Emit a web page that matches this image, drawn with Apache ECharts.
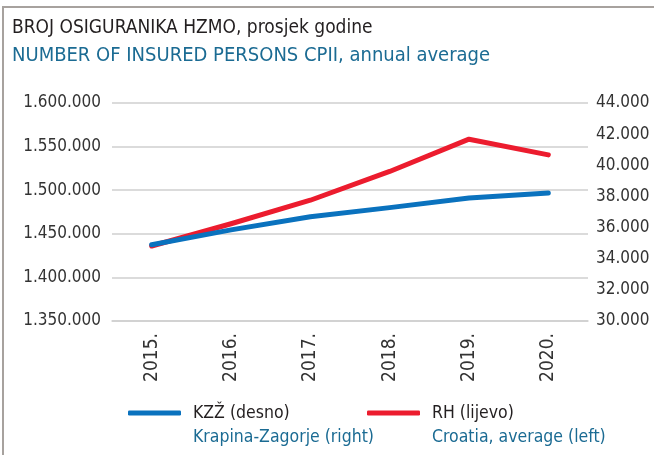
<!DOCTYPE html>
<html><head><meta charset="utf-8">
<script src="https://cdn.jsdelivr.net/npm/echarts@6/dist/echarts.min.js"></script>
<style>
html,body{margin:0;padding:0;background:#fff;}
#frame{position:absolute;left:2px;top:6px;width:660px;height:460px;border-left:2px solid #a7a29e;border-top:2px solid #a7a29e;}
#c{position:absolute;left:0;top:0;width:654px;height:455px;}
</style>
</head><body>
<div id="frame"></div>
<div id="c"></div>
<script>
const years = ['2015.', '2016.', '2017.', '2018.', '2019.', '2020.'];
const kzzValues = [34900, 35850, 36700, 37280, 37900, 38220];
const rhValues = [1436000, 1461500, 1488500, 1521500, 1558500, 1540500];
const leftAxis = { min: 1350000, max: 1600000, interval: 50000 };
const rightAxis = { min: 30000, max: 44000, interval: 2000 };
const seriesNames = ['KZŽ (desno)', 'RH (lijevo)'];
const seriesSubNames = ['Krapina-Zagorje (right)', 'Croatia, average (left)'];
const titleLines = ['BROJ OSIGURANIKA HZMO, prosjek godine', 'NUMBER OF INSURED PERSONS CPII, annual average'];

const FONT = "'Liberation Sans Narrow', 'DejaVu Sans Condensed', Lato, sans-serif";
const DARK = '#231f20';
const BLUE_TXT = '#1b6b93';
const BLUE = '#0a72be';
const RED = '#ec1c2e';

function fmt(v) { return String(v).replace(/\B(?=(\d{3})+(?!\d))/g, '.'); }

function legendFor(i, left) {
  return {
    data: [seriesNames[i]], left: left, top: 404, padding: 0, icon: 'roundRect',
    itemWidth: 53, itemHeight: 5,
    formatter: function () { return '{a|' + seriesNames[i] + '}\n{b|' + seriesSubNames[i] + '}'; },
    textStyle: {
      padding: [24, 0, 0, 7], fontFamily: FONT,
      rich: {
        a: { fontSize: 17.5, color: DARK, lineHeight: 24, fontFamily: FONT },
        b: { fontSize: 17.5, color: BLUE_TXT, lineHeight: 24, fontFamily: FONT }
      }
    }
  };
}

const chart = echarts.init(document.getElementById('c'), null, { renderer: 'canvas' });
chart.setOption({
  animation: false,
  title: [
    { text: titleLines[0], left: 12, top: 19, padding: 0, textStyle: { fontFamily: FONT, fontSize: 19, fontWeight: 'normal', color: DARK } },
    { text: titleLines[1], left: 12, top: 46, padding: 0, textStyle: { fontFamily: FONT, fontSize: 20, fontWeight: 'normal', color: BLUE_TXT } }
  ],
  legend: [legendFor(0, 128), legendFor(1, 367)],
  grid: { left: 112, right: 66, top: 103, bottom: 134 },
  xAxis: {
    type: 'category', data: years, boundaryGap: true,
    axisLine: { show: true, lineStyle: { color: '#cfcfcf', width: 1.5 } },
    axisTick: { show: false },
    axisLabel: { rotate: 90, margin: 12, fontFamily: FONT, fontSize: 19, color: '#333' }
  },
  yAxis: [
    {
      type: 'value', position: 'left', min: leftAxis.min, max: leftAxis.max, interval: leftAxis.interval,
      axisLine: { show: false }, axisTick: { show: false },
      axisLabel: { formatter: fmt, margin: 11, fontFamily: FONT, fontSize: 17, color: '#333' },
      splitLine: { show: true, lineStyle: { color: '#cfcfcf', width: 1.5 } }
    },
    {
      type: 'value', position: 'right', min: rightAxis.min, max: rightAxis.max, interval: rightAxis.interval,
      axisLine: { show: false }, axisTick: { show: false },
      axisLabel: { formatter: fmt, margin: 8, fontFamily: FONT, fontSize: 17, color: '#333' },
      splitLine: { show: false }
    }
  ],
  series: [
    {
      name: seriesNames[1], type: 'line', yAxisIndex: 0, data: rhValues, showSymbol: false, symbol: 'none', z: 2,
      lineStyle: { color: RED, width: 5, cap: 'round', join: 'round' }, itemStyle: { color: RED }
    },
    {
      name: seriesNames[0], type: 'line', yAxisIndex: 1, data: kzzValues, showSymbol: false, symbol: 'none', z: 3,
      lineStyle: { color: BLUE, width: 5, cap: 'round', join: 'round' }, itemStyle: { color: BLUE }
    }
  ]
});
</script>
</body></html>
